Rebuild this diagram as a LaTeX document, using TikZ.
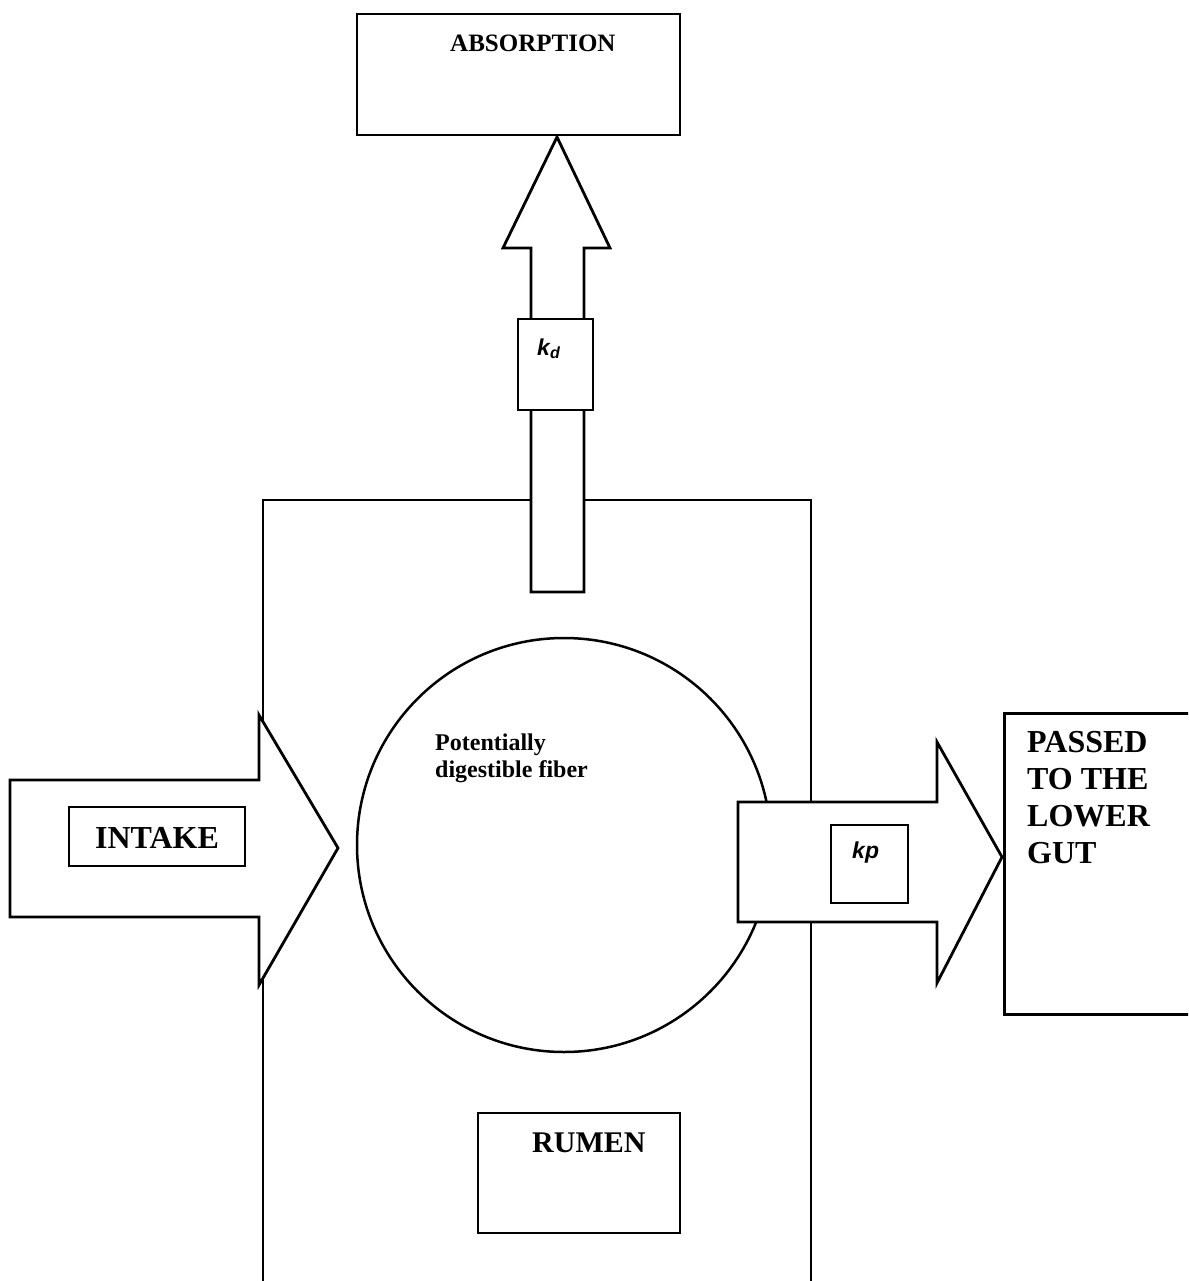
\documentclass[tikz,border=0pt]{standalone}
\usepackage{fontspec}
\setmainfont{Liberation Serif}
\newfontfamily\ratefont{Liberation Sans}
\usetikzlibrary{positioning}

\begin{document}
\begin{tikzpicture}[x=1pt, y=-1pt,
    box/.style={draw, line width=2.8pt, fill=white, inner sep=0pt},
    blockarrow/.style={draw, line width=2.8pt, fill=white, line join=miter},
    caps/.style={font=\fontsize{31}{37}\selectfont\bfseries, inner sep=0pt},
    rate/.style={font=\fontsize{23}{26}\selectfont\ratefont\bfseries\itshape, inner sep=0pt}
]
    \clip (0,0) rectangle (1188,1281);

    % Rumen compartment, open at the bottom
    \draw[line width=2.8pt] (263,1281) -- (263,500) -- (811,500) -- (811,1281);

    % Fiber pool
    \node[circle, draw, line width=2.5pt, minimum size=414pt, inner sep=0pt] (pool) at (564,845) {};
    \node[font=\fontsize{24}{27}\selectfont\bfseries, align=left, anchor=base west, inner sep=0pt]
        (fibertxt) at (435,777) {Potentially\\digestible fiber};

    \node[box, minimum width=202pt, minimum height=120pt] (rumen) at (579,1173) {};
    \node[caps, font=\fontsize{30}{36}\selectfont\bfseries, anchor=base west] (rumentxt) at (532,1152) {RUMEN};

    % Digestion: arrow up to absorption
    \draw[blockarrow] (531,592) -- (531,248) -- (503,248) -- (557,137) -- (610,248) -- (584,248) -- (584,592) -- cycle;
    \node[box, minimum width=75pt, minimum height=91pt] (kd) at (555.5,364.5) {};
    \node[rate, anchor=base west] (kdtxt) at (537,355) {k\textsubscript{d}};

    \node[box, minimum width=323pt, minimum height=121pt] (absorb) at (518.5,74.5) {};
    \node[caps, font=\fontsize{25}{30}\selectfont\bfseries, anchor=base west] (absorbtxt) at (450,52) {ABSORPTION};

    % Intake arrow
    \draw[blockarrow] (10,780) -- (259,780) -- (259,715) -- (338,848) -- (259,985) -- (259,917) -- (10,917) -- cycle;
    \node[box, minimum width=176pt, minimum height=59pt] (intake) at (157,836.5) {};
    \node[caps, font=\fontsize{32}{38}\selectfont\bfseries] (intaketxt) at (157,838) {INTAKE};

    % Passage arrow
    \draw[blockarrow] (738,802) -- (937,802) -- (937,742) -- (1002,857) -- (937,983) -- (937,922) -- (738,922) -- cycle;
    \node[box, minimum width=77pt, minimum height=78pt] (kp) at (869.5,864) {};
    \node[rate, anchor=base west] (kptxt) at (852,858) {kp};

    \node[box, minimum width=240pt, minimum height=301pt, anchor=north west] (lower) at (1003,712) {};
    \node[caps, font=\fontsize{32}{36.7}\selectfont\bfseries, align=left, anchor=base west]
        (lowertxt) at (1027,863) {PASSED\\TO THE\\LOWER\\GUT};
\end{tikzpicture}
\end{document}
